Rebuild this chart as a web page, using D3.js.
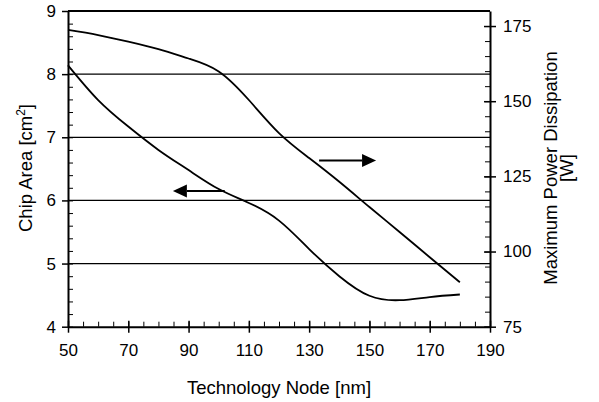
<!DOCTYPE html>
<html>
<head>
<meta charset="utf-8">
<script src="https://cdn.jsdelivr.net/npm/d3@7"></script>
<style>
  body { margin: 0; background: #fff; }
  svg text { font-family: "Liberation Sans", Arial, sans-serif; fill: #000; }
</style>
</head>
<body>
<script>
// Data
const nodes = [50, 60, 70, 80, 90, 100, 110, 120, 130, 140, 150, 160, 170, 180];
const chipArea = [8.14, 7.59, 7.17, 6.80, 6.48, 6.18, 5.96, 5.68, 5.23, 4.80, 4.49, 4.42, 4.47, 4.51];
const maxPower = [173.7, 172.0, 169.8, 167.3, 164.2, 159.9, 150.4, 139.4, 131.1, 123.2, 114.8, 106.5, 98.1, 89.8];

const xTicks = [50, 70, 90, 110, 130, 150, 170, 190];
const leftTicks = [4, 5, 6, 7, 8, 9];
const rightTicks = [75, 100, 125, 150, 175];
const gridValues = [5, 6, 7, 8, 9];

// annotation arrows: tail and tip on the x axis, height on the series' own axis
const arrows = [
  {from: 102, to: 84.8, y: 6.15, axis: "left"},
  {from: 133.3, to: 152.2, y: 130.3, axis: "right"}
];

const width = 599,
    height = 402;

const svg = d3.select("body").append("svg")
    .attr("width", width)
    .attr("height", height);

const x = d3.scaleLinear().domain([50, 190]).range([68, 490]);
const yL = d3.scaleLinear().domain([4, 9]).range([326.7, 11]);
const yR = d3.scaleLinear().domain([75, 180]).range([326.7, 11]);

// gridlines
svg.append("g")
    .selectAll("line")
    .data(gridValues)
    .join("line")
    .attr("x1", x(50))
    .attr("x2", x(190))
    .attr("y1", d => yL(d))
    .attr("y2", d => yL(d))
    .attr("stroke", "#000")
    .attr("stroke-width", d => d === 9 ? 2 : 1.2);

// minor ticks (inside)
svg.append("g")
    .attr("transform", `translate(${x(50)},0)`)
    .call(d3.axisLeft(yL).tickValues(d3.range(4, 9.01, 0.2)).tickSize(-5).tickSizeOuter(0).tickFormat(""))
    .call(g => g.select(".domain").remove());
svg.append("g")
    .attr("transform", `translate(0,${yL(4)})`)
    .call(d3.axisBottom(x).tickValues(d3.range(50, 191, 5)).tickSize(-5).tickSizeOuter(0).tickFormat(""))
    .call(g => g.select(".domain").remove());
svg.append("g")
    .attr("transform", `translate(${x(190)},0)`)
    .call(d3.axisRight(yR).tickValues(d3.range(75, 181, 5)).tickSize(-5).tickSizeOuter(0).tickFormat(""))
    .call(g => g.select(".domain").remove());

// major axes
const styleAxis = g => {
  g.select(".domain").attr("stroke-width", 2);
  g.selectAll(".tick line").attr("stroke-width", 1.5);
  g.selectAll(".tick text").style("font-size", "17px").attr("fill", "#000");
};

svg.append("g")
    .attr("transform", `translate(${x(50)},0)`)
    .call(d3.axisLeft(yL).tickValues(leftTicks).tickFormat(d3.format("d"))
        .tickSize(6).tickSizeOuter(0).tickPadding(6))
    .call(styleAxis);
svg.append("g")
    .attr("transform", `translate(0,${yL(4)})`)
    .call(d3.axisBottom(x).tickValues(xTicks).tickSize(6).tickSizeOuter(0).tickPadding(11))
    .call(styleAxis)
    .call(g => g.selectAll(".tick line").attr("y1", -6));
svg.append("g")
    .attr("transform", `translate(${x(190)},0)`)
    .call(d3.axisRight(yR).tickValues(rightTicks).tickSize(6).tickSizeOuter(0).tickPadding(7))
    .call(styleAxis)
    .call(g => g.selectAll(".tick line").attr("x1", -6));

// curves
const areaLine = d3.line()
    .x((d, i) => x(nodes[i]))
    .y(d => yL(d))
    .curve(d3.curveNatural);
const powerLine = d3.line()
    .x((d, i) => x(nodes[i]))
    .y(d => yR(d))
    .curve(d3.curveNatural);

svg.append("path")
    .datum(chipArea)
    .attr("d", areaLine)
    .attr("fill", "none")
    .attr("stroke", "#000")
    .attr("stroke-width", 1.8);
svg.append("path")
    .datum(maxPower)
    .attr("d", powerLine)
    .attr("fill", "none")
    .attr("stroke", "#000")
    .attr("stroke-width", 1.8);

// arrows
arrows.forEach(a => {
  const y = a.axis === "left" ? yL(a.y) : yR(a.y);
  const x0 = x(a.from), x1 = x(a.to);
  const dir = Math.sign(x1 - x0);
  const headLen = 14, headHalf = 6.5;
  svg.append("line")
      .attr("x1", x0).attr("x2", x1 - dir * headLen)
      .attr("y1", y).attr("y2", y)
      .attr("stroke", "#000")
      .attr("stroke-width", 2);
  svg.append("path")
      .attr("d", `M${x1},${y}L${x1 - dir * headLen},${y - headHalf}L${x1 - dir * headLen},${y + headHalf}Z`)
      .attr("fill", "#000");
});

// axis titles
svg.append("text")
    .attr("x", (x(50) + x(190)) / 2)
    .attr("y", 394)
    .attr("text-anchor", "middle")
    .style("font-size", "18.5px")
    .text("Technology Node [nm]");

const leftTitle = svg.append("text")
    .attr("transform", `translate(32,168) rotate(-90)`)
    .attr("text-anchor", "middle")
    .style("font-size", "18.5px");
leftTitle.append("tspan").text("Chip Area [cm");
leftTitle.append("tspan").attr("dy", -7).style("font-size", "12px").text("2");
leftTitle.append("tspan").attr("dy", 7).text("]");

const rightTitle = svg.append("text")
    .attr("transform", `translate(557,168) rotate(-90)`)
    .attr("text-anchor", "middle")
    .style("font-size", "18.5px");
rightTitle.append("tspan").attr("x", 0).attr("dy", 0).text("Maximum Power Dissipation");
rightTitle.append("tspan").attr("x", 0).attr("dy", 16).text("[W]");
</script>
</body>
</html>
